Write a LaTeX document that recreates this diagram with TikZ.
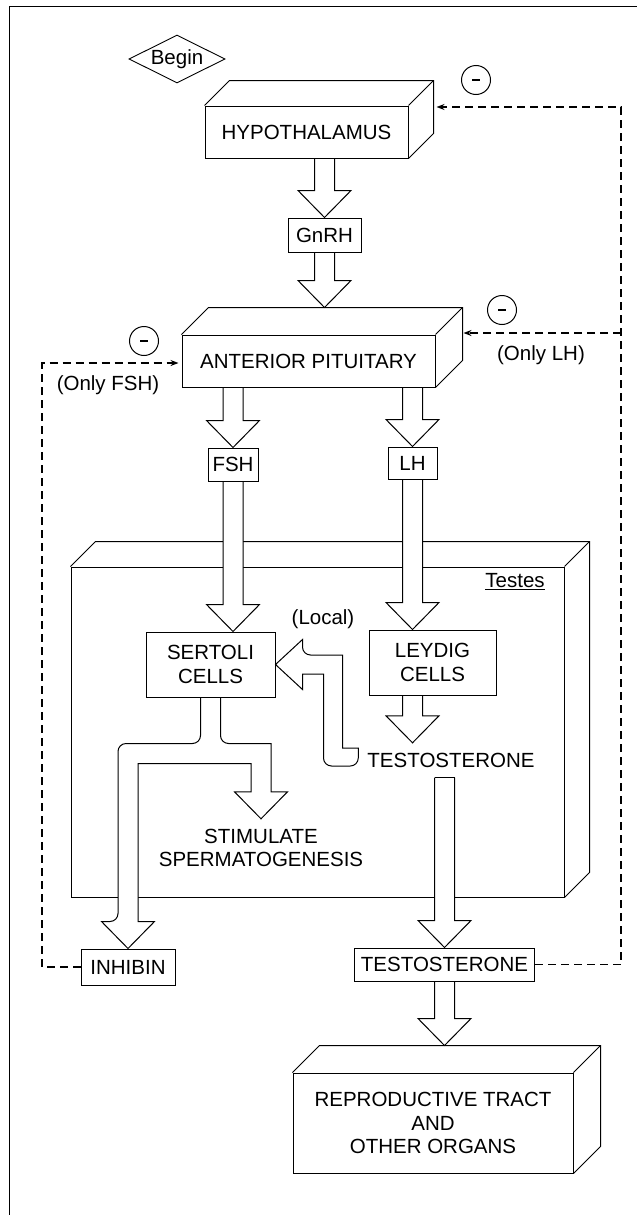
\documentclass[tikz,border=0pt]{standalone}
\usepackage{fontspec}
\setmainfont{Liberation Sans}
\usetikzlibrary{positioning, arrows.meta, calc, shapes.geometric}

\newcommand{\lbl}{\fontsize{20.5}{23.5}\selectfont}
% top and right faces of a 3D slab drawn behind a front node
\newcommand{\slabfaces}[2]{%
  \draw[boxline] (#1.north west) -- ++(#2,-#2) -- ($(#1.north east)+(#2,-#2)$)
    -- ($(#1.south east)+(#2,-#2)$) -- (#1.south east);
  \draw[boxline] (#1.north east) -- ++(#2,-#2);}
% hollow block arrow pointing down, start and tip on the same x
\newcommand{\blockdown}[2]{%
  \draw[hollow] ($(#1)+(-10,0.5)$) -- ($(#2)+(-10,-27)$) -- ($(#2)+(-26.5,-27)$)
    -- (#2) -- ($(#2)+(26.5,-27)$) -- ($(#2)+(10,-27)$) -- ($(#1)+(10,0.5)$);}

\begin{document}
\begin{tikzpicture}[x=1pt, y=-1pt,
  box/.style={draw, line width=1pt, fill=white, inner sep=0pt, align=center, font=\lbl},
  hollow/.style={draw, fill=white, line width=1pt, line join=miter},
  boxline/.style={line width=1pt},
  feedback/.style={line width=1.6pt, dash pattern=on 8pt off 5pt, -{Stealth[length=8pt, width=6pt]}},
  minus/.style={circle, draw, line width=1pt, minimum size=29pt, inner sep=0pt},
  tag/.style={font=\lbl, inner sep=0pt},
]
\useasboundingbox (0,0) rectangle (637,1215);

%% ── Frame ────────────────────────────────────────────────────────────────────
\draw[line width=1pt] (9,1215) -- (9,7) -- (637,7);

%% ── Testes slab ──────────────────────────────────────────────────────────────
\node[box, minimum width=493pt, minimum height=330pt] (testes) at (317.5,732) {};
\slabfaces{testes}{25}
\node[tag] (testeslbl) at (515,582) {\underline{Testes}};

%% ── Boxes ────────────────────────────────────────────────────────────────────
\node[diamond, draw, line width=0.9pt, aspect=2, inner sep=0pt,
      minimum width=96pt, minimum height=48pt, font=\lbl] (begin) at (177,59) {Begin};
\node[box, minimum width=203pt, minimum height=52pt] (hypo) at (306.5,132) {HYPOTHALAMUS};
\slabfaces{hypo}{25}
\node[box, minimum width=73pt, minimum height=34pt] (gnrh) at (324.5,235) {GnRH};
\node[box, minimum width=253pt, minimum height=52pt] (antpit) at (308.5,361) {ANTERIOR PITUITARY};
\slabfaces{antpit}{27}
\node[box, minimum width=50pt, minimum height=33pt] (fsh) at (233,464.5) {FSH};
\node[box, minimum width=49pt, minimum height=32pt] (lh) at (412.5,463) {LH};
\node[box, minimum width=129pt, minimum height=65pt] (sertoli) at (210.5,664.5) {SERTOLI\\CELLS};
\node[box, minimum width=127pt, minimum height=65pt] (leydig) at (432.5,662.5) {LEYDIG\\CELLS};
\node[tag, minimum height=34pt] (testo) at (451,760) {TESTOSTERONE};
\node[tag, align=center, inner ysep=10pt] (stim) at (261,848) {STIMULATE\\SPERMATOGENESIS};
\node[box, minimum width=94pt, minimum height=36pt] (inhibin) at (128,967) {INHIBIN};
\node[box, minimum width=180pt, minimum height=33pt] (testobox) at (444.5,964.5) {TESTOSTERONE};
\node[box, minimum width=280pt, minimum height=100pt] (repro) at (433,1123)
  {REPRODUCTIVE TRACT\\AND\\OTHER ORGANS};
\slabfaces{repro}{27}

%% ── Labels ───────────────────────────────────────────────────────────────────
\node[tag] (local) at (323,619) {(Local)};
\node[tag] (onlylh) at (541,355) {(Only LH)};
\node[tag] (onlyfsh) at (108,385) {(Only FSH)};
\node[minus] (neghypo) at (476,80) {\rule{8pt}{1.2pt}};
\node[minus] (negpitr) at (502,310) {\rule{8pt}{1.2pt}};
\node[minus] (negpitl) at (144,341) {\rule{8pt}{1.2pt}};

%% ── Block arrows ─────────────────────────────────────────────────────────────
\coordinate (hypoout) at (hypo.south -| gnrh.north);
\coordinate (aptop) at ($(antpit.north)+(0,-27)$);
\coordinate (gnrhin) at (gnrh.south |- aptop);
\coordinate (fshout) at (antpit.south -| fsh.north);
\coordinate (lhout) at (antpit.south -| lh.north);
\coordinate (sertin) at (fsh.south |- sertoli.north);
\coordinate (leyin) at (lh.south |- leydig.north);
\coordinate (leyout) at (leydig.south -| lh.south);
\coordinate (testoin) at (lh.south |- testo.north);
\coordinate (testoout) at (testobox.north |- testo.south);
\coordinate (reprotop) at ($(repro.north)+(0,-27)$);
\coordinate (reproin) at (testobox.south |- reprotop);

\blockdown{hypoout}{gnrh.north}
\blockdown{gnrh.south}{gnrhin}
\blockdown{fshout}{fsh.north}
\blockdown{lhout}{lh.north}
\blockdown{fsh.south}{sertin}
\blockdown{lh.south}{leyin}
\blockdown{leyout}{testoin}
\blockdown{testoout}{testobox.north}
\draw[boxline] ($(testoout)+(-10,0)$) -- ($(testoout)+(10,0)$);
\blockdown{testobox.south}{reproin}

%% ── Local testosterone back to Sertoli ──────────────────────────────────────
\coordinate (loctip) at (sertoli.east);
\coordinate (loctail) at ($(testo.west)+(-9,-3)$);
\draw[hollow] ($(loctail)+(0,-9)$) -- ($(loctip |- loctail)+(67,-9)$)
  -- ($(loctip)+(67,-9.5)$) [rounded corners=8pt] -- ($(loctip)+(27,-9.5)$)
  [sharp corners] -- ($(loctip)+(27,-25)$) -- (loctip) -- ($(loctip)+(27,25)$)
  -- ($(loctip)+(27,9.5)$) -- ($(loctip)+(48,9.5)$) [rounded corners=8pt]
  -- ($(loctip |- loctail)+(48,9)$) -- ($(loctail)+(0,9)$) [sharp corners] -- cycle;

%% ── Sertoli fork: inhibin and spermatogenesis ────────────────────────────────
\draw[hollow] ($(sertoli.south)+(-10,0.5)$) [rounded corners=8pt]
  -- ($(sertoli.south)+(-10,46)$) -- ($(inhibin.north |- sertoli.south)+(-10,46)$)
  -- ($(inhibin.north)+(-10,-27)$) [sharp corners] -- ($(inhibin.north)+(-26.5,-27)$)
  -- (inhibin.north) -- ($(inhibin.north)+(26.5,-27)$) -- ($(inhibin.north)+(10,-27)$)
  -- ($(inhibin.north |- sertoli.south)+(10,66)$) -- ($(stim.north |- sertoli.south)+(-10,66)$)
  -- ($(stim.north)+(-10,-27)$) -- ($(stim.north)+(-26.5,-27)$) -- (stim.north)
  -- ($(stim.north)+(26.5,-27)$) -- ($(stim.north)+(10,-27)$)
  -- ($(stim.north |- sertoli.south)+(10,46)$) [rounded corners=8pt]
  -- ($(sertoli.south)+(10,46)$) -- ($(sertoli.south)+(10,0.5)$);

%% ── Negative feedback ────────────────────────────────────────────────────────
\coordinate (rail) at (621,0);
\coordinate (lrail) at (42,0);
\coordinate (hypoin) at ($(hypo.east)+(28,-25)$);
\coordinate (apin) at ($(antpit.east)+(28,-28)$);
\coordinate (apleft) at ($(antpit.west)+(-3,2)$);
\draw[feedback] (testobox.east) -- (testobox.east -| rail) -- (rail |- hypoin) -- (hypoin);
\draw[feedback] (rail |- apin) -- (apin);
\draw[feedback] (inhibin.west) -- (inhibin.west -| lrail) -- (lrail |- apleft) -- (apleft);

\end{tikzpicture}
\end{document}
